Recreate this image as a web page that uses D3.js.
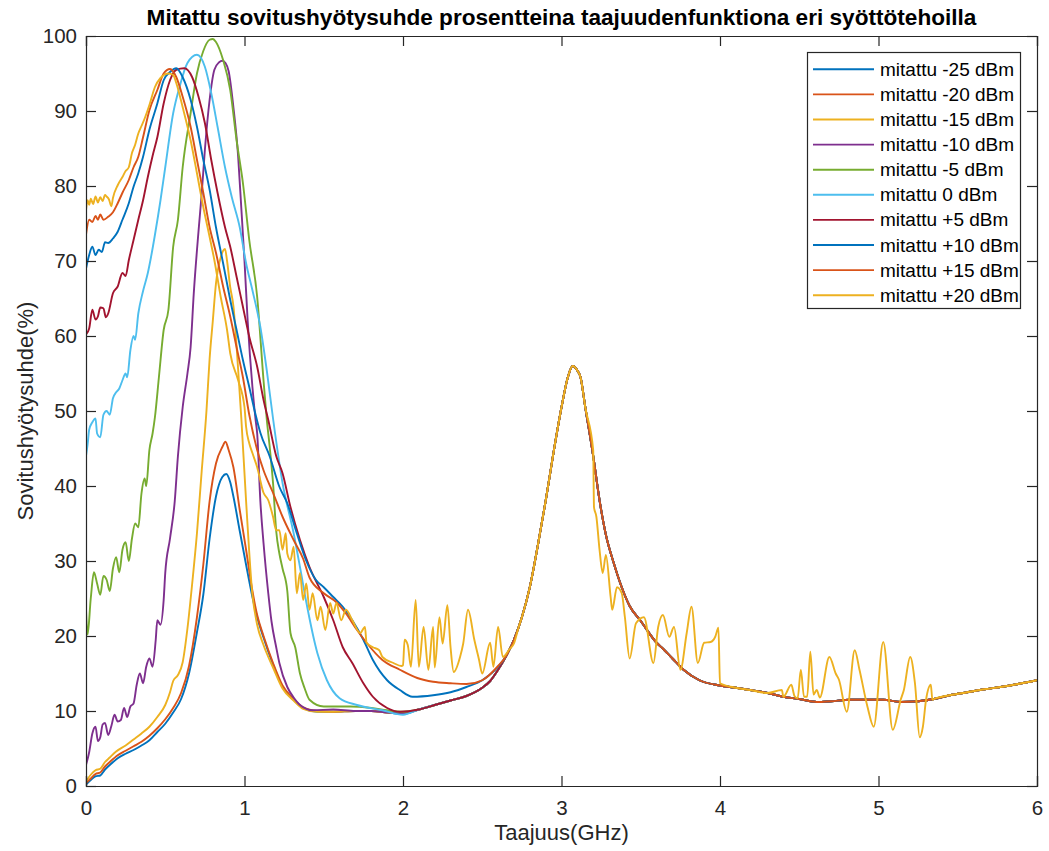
<!DOCTYPE html>
<html><head><meta charset="utf-8">
<script src="https://cdn.jsdelivr.net/npm/d3@7"></script>
<style>body{margin:0;background:#fff}svg{display:block;font-family:"Liberation Sans",Arial,sans-serif}</style>
</head><body><svg id="c" width="1049" height="851"></svg>
<script>
const titleText = "Mitattu sovitushyötysuhde prosentteina taajuudenfunktiona eri syöttötehoilla";
const xLabel = "Taajuus(GHz)";
const yLabel = "Sovitushyötysuhde(%)";
const xTicks = [0,1,2,3,4,5,6];
const yTicks = [0,10,20,30,40,50,60,70,80,90,100];
const seriesNames = ["mitattu -25 dBm","mitattu -20 dBm","mitattu -15 dBm","mitattu -10 dBm","mitattu -5 dBm","mitattu 0 dBm","mitattu +5 dBm","mitattu +10 dBm","mitattu +15 dBm","mitattu +20 dBm"];
const colors = ["#0072BD","#D95319","#EDB120","#7E2F8E","#77AC30","#4DBEEE","#A2142F","#0072BD","#D95319","#EDB120"];

// shared low valley (2.0..2.6 GHz) and common tail (2.65..6 GHz)
const valley = [[2.1,10.2],[2.2,10.8],[2.3,11.4],[2.4,12],[2.5,13.1],[2.55,14],[2.6,15.5]];
const tail = [[2.65,17.3],[2.7,19.5],[2.75,22.5],[2.8,26.5],[2.85,32],[2.9,38],[2.95,44.5],[3.0,50.5],[3.04,54.5],[3.07,56],[3.1,55.4],[3.12,54.5],[3.15,50.5],[3.2,44],[3.24,38.1],[3.28,33.5],[3.33,29.7],[3.38,26.5],[3.43,24],[3.5,22],[3.6,19.1],[3.64,18.3],[3.7,17],[3.77,15.5],[3.87,14.1],[4.0,13.4],[4.1,13.1],[4.19,12.8],[4.3,12.4],[4.4,11.9],[4.5,11.6],[4.61,11.2],[4.7,11.3],[4.82,11.5],[4.92,11.5],[5.03,11.5],[5.14,11.2],[5.25,11.3],[5.35,11.6],[5.45,12.1],[5.56,12.5],[5.67,12.9],[5.77,13.2],[5.88,13.6],[6.0,14.1]];

const m25 = [[0,0.2],[0.03,0.8],[0.06,1.3],[0.09,1.4],[0.12,2.2],[0.15,2.8],[0.2,3.7],[0.25,4.3],[0.3,4.8],[0.35,5.4],[0.4,6.1],[0.45,7.2],[0.5,8.3],[0.55,9.8],[0.6,11.6],[0.65,15],[0.7,20.5],[0.74,25.5],[0.78,33],[0.82,38.6],[0.86,41.2],[0.885,41.6],[0.91,40.5],[0.93,38.6],[0.97,34],[1.01,29.5],[1.05,25.2],[1.08,22.5],[1.12,19.8],[1.18,16.2],[1.24,13.2],[1.31,11.5],[1.37,10.4],[1.46,9.9],[1.56,9.9],[1.7,10],[1.8,10],[1.9,9.8],[2.0,9.6]];
const m20 = [[0,0.4],[0.03,1.0],[0.06,1.6],[0.09,1.8],[0.12,2.6],[0.15,3.2],[0.2,4.1],[0.25,4.7],[0.3,5.3],[0.35,5.9],[0.4,6.7],[0.45,7.7],[0.5,8.9],[0.55,10.4],[0.6,12.4],[0.65,16],[0.7,22.5],[0.74,29.5],[0.78,38],[0.82,43],[0.86,45.2],[0.88,45.9],[0.9,44.8],[0.93,42.5],[0.97,36.8],[1.01,31.5],[1.05,26],[1.08,22.8],[1.12,20],[1.18,16.4],[1.24,13.4],[1.31,11.6],[1.37,10.5],[1.46,10],[1.56,9.9],[1.7,10],[1.8,10],[1.9,9.8],[2.0,9.7]];
const m15 = [[0,0.6],[0.03,1.5],[0.06,2.1],[0.09,2.3],[0.12,3.2],[0.15,3.8],[0.19,4.6],[0.25,5.4],[0.3,6.2],[0.35,7],[0.4,7.9],[0.45,9.2],[0.5,10.8],[0.53,12.5],[0.55,14],[0.58,14.8],[0.61,16.5],[0.64,21],[0.67,27],[0.7,33.7],[0.73,42],[0.76,50],[0.78,57],[0.8,62],[0.82,67],[0.85,70.5],[0.877,71.6],[0.89,70],[0.91,66.5],[0.93,64],[0.96,55.5],[0.98,49],[1.01,38],[1.05,25.5],[1.08,21.5],[1.12,18.8],[1.18,15.8],[1.24,13],[1.31,11.4],[1.37,10.3],[1.46,9.9],[1.56,9.9],[1.7,10],[1.8,10],[1.9,9.8],[2.0,9.7]];
const m10 = [[0,2.8],[0.02,4.5],[0.04,7],[0.06,7.9],[0.075,6],[0.09,6.5],[0.105,8.2],[0.12,8.4],[0.14,6.8],[0.16,8],[0.18,9.5],[0.2,8.6],[0.22,8.8],[0.24,10.4],[0.26,9.2],[0.28,10.6],[0.3,11],[0.32,13.5],[0.34,15],[0.36,13.7],[0.38,15.9],[0.4,17],[0.42,15.9],[0.44,19.5],[0.45,22.1],[0.47,21.5],[0.49,24.8],[0.5,28.4],[0.53,33],[0.56,38],[0.58,44],[0.61,50.5],[0.64,55],[0.66,58.5],[0.68,65.7],[0.71,74],[0.73,79],[0.75,84.8],[0.78,91.5],[0.81,95.5],[0.84,96.5],[0.86,96.7],[0.88,96.4],[0.9,95.3],[0.93,90.5],[0.96,83.9],[0.98,77],[1.0,70],[1.02,62],[1.05,53.2],[1.07,48.8],[1.08,47],[1.1,38],[1.12,32.4],[1.15,25.7],[1.17,22],[1.2,18.5],[1.22,16.4],[1.27,13.2],[1.31,11.8],[1.35,10.8],[1.43,10.1],[1.56,10.2],[1.7,10],[1.8,10],[1.9,9.8],[2.0,9.7]];
const m5 = [[0,23.5],[0.01,20.2],[0.03,25],[0.05,28.5],[0.07,27],[0.09,25.5],[0.11,28],[0.13,27.5],[0.15,26],[0.17,29],[0.19,30.5],[0.21,28.5],[0.23,31.5],[0.25,32.5],[0.27,30],[0.29,33],[0.31,35],[0.33,34.5],[0.35,39],[0.37,41],[0.38,40],[0.40,44.8],[0.42,47],[0.435,49.2],[0.46,54.5],[0.49,60.8],[0.52,63.5],[0.55,71.9],[0.58,75.5],[0.61,82.5],[0.66,89.7],[0.70,95],[0.74,98],[0.78,99.5],[0.8,99.6],[0.82,99.2],[0.865,96.8],[0.91,92.8],[0.95,86.1],[0.99,80.4],[1.03,72.8],[1.08,65.2],[1.12,54.1],[1.14,49],[1.16,45],[1.18,40.4],[1.2,34],[1.22,31],[1.24,29],[1.27,26],[1.29,20.4],[1.32,18.5],[1.35,15],[1.38,13],[1.41,11.5],[1.5,10.6],[1.67,10.6],[1.8,10.4],[1.9,10.1],[2.0,9.9]];
const p0 = [[0,44],[0.01,45.5],[0.02,47.5],[0.04,48.5],[0.06,49],[0.07,47],[0.09,46.5],[0.11,49.5],[0.13,50],[0.15,49.5],[0.17,51.7],[0.19,52.5],[0.21,53],[0.23,54.1],[0.25,55],[0.26,54.5],[0.28,58.1],[0.3,60],[0.31,59.5],[0.33,63],[0.36,66],[0.39,68.4],[0.41,70.5],[0.435,73.5],[0.47,78.1],[0.5,82.5],[0.55,89.7],[0.59,93.2],[0.64,96.4],[0.70,97.5],[0.75,95.9],[0.79,92.4],[0.83,87.9],[0.877,82.5],[0.92,78.5],[0.97,74.5],[1.01,69.7],[1.05,66.1],[1.1,61.2],[1.14,55.5],[1.18,49],[1.24,40.4],[1.31,33.7],[1.35,29.2],[1.39,24.5],[1.46,17.7],[1.52,14.1],[1.6,11.7],[1.71,10.8],[1.87,10.1],[2.0,9.5]];
const p5 = [[0,60.2],[0.02,61],[0.04,63.5],[0.06,62.2],[0.075,62.6],[0.09,63.8],[0.11,63.7],[0.125,62.5],[0.14,63],[0.17,65.7],[0.2,66.6],[0.23,68.4],[0.25,68],[0.27,70.1],[0.3,72.8],[0.33,75.5],[0.36,78.1],[0.39,81.2],[0.42,84],[0.45,86.5],[0.49,91],[0.53,94.1],[0.57,95.5],[0.62,95.7],[0.67,94.5],[0.71,91.9],[0.75,88.4],[0.79,83.5],[0.83,79.1],[0.877,74.5],[0.91,71.9],[0.95,67.9],[0.99,63.9],[1.03,59.9],[1.08,55.9],[1.12,51.5],[1.15,48.8],[1.2,44],[1.24,41.7],[1.29,37.2],[1.35,32.8],[1.41,29.2],[1.5,25.2],[1.56,22.1],[1.62,18.5],[1.68,16.4],[1.75,13.7],[1.81,11.9],[1.9,10.4],[1.98,9.9]];
const p10 = [[0,69],[0.02,70.8],[0.04,71.9],[0.06,70.8],[0.08,71.5],[0.1,71.2],[0.12,72.5],[0.14,72.4],[0.17,73],[0.2,73.9],[0.23,75.5],[0.27,77.7],[0.3,79.9],[0.33,81.7],[0.36,83.9],[0.40,87.5],[0.45,91],[0.49,94.1],[0.53,95.2],[0.57,95.7],[0.61,94.5],[0.66,91.5],[0.70,87.9],[0.74,83.5],[0.78,79.5],[0.82,74.5],[0.865,69.7],[0.91,64.8],[0.95,60.8],[0.99,56.8],[1.03,53.2],[1.07,49.5],[1.1,47.1],[1.16,43.9],[1.22,39.9],[1.27,37.7],[1.33,33.7],[1.39,30],[1.45,27.5],[1.5,26.5],[1.56,25.2],[1.62,23.9],[1.68,22.1],[1.75,19.5],[1.81,16.8],[1.9,14.1],[1.98,12.8],[2.06,11.9],[2.19,12.1],[2.3,12.5],[2.4,13.2],[2.5,14.1],[2.6,15.9]];
const p15 = [[0,73.5],[0.02,75.5],[0.04,75.2],[0.06,76],[0.075,75.5],[0.09,76.2],[0.11,75.5],[0.14,75.9],[0.17,76.5],[0.2,77.7],[0.23,79.1],[0.27,80.8],[0.3,82.5],[0.33,83.9],[0.36,86.5],[0.40,90.1],[0.45,92.8],[0.49,95],[0.53,95.6],[0.57,94.5],[0.61,91.9],[0.66,87.9],[0.70,83.5],[0.74,79.1],[0.78,74.5],[0.82,71.1],[0.865,66.6],[0.91,62.6],[0.95,58.5],[0.99,54.5],[1.03,49.5],[1.08,44.8],[1.12,42.1],[1.18,39.1],[1.24,35.9],[1.31,32.8],[1.37,30.3],[1.41,27.8],[1.5,25.7],[1.58,24.5],[1.64,23],[1.71,20.8],[1.77,19.1],[1.87,16.8],[1.98,15.5],[2.09,14.4],[2.19,13.9],[2.3,13.7],[2.4,13.6],[2.5,14.1],[2.6,16]];
const p20a = [[0,76.8],[0.01,78.1],[0.02,77.5],[0.03,78.3],[0.045,77.6],[0.06,78.6],[0.075,77.8],[0.09,78.5],[0.105,78],[0.12,78.8],[0.13,78.6],[0.145,78.2],[0.16,77.3],[0.17,78.4],[0.2,80.1],[0.23,81.2],[0.25,82],[0.27,82.5],[0.29,84.4],[0.31,85.5],[0.33,87],[0.35,88],[0.37,89],[0.40,90.8],[0.435,93.2],[0.47,94.4],[0.52,95],[0.55,94.8],[0.57,93.7],[0.61,90.5],[0.66,86.1],[0.70,81.7],[0.74,77.2],[0.78,73.2],[0.81,70.1],[0.85,65.2],[0.89,60.8],[0.91,57.7],[0.96,54.1],[1.0,50.5],[1.01,47.9],[1.03,45.7],[1.05,44.4],[1.08,42.5],[1.12,39.1],[1.15,38.1],[1.18,35.9],[1.2,34.1],[1.22,34.1],[1.24,31.5],[1.26,33.7],[1.27,31],[1.29,30.1],[1.31,31.9],[1.33,25.7],[1.35,28.4],[1.37,24.8],[1.39,27],[1.41,23.5],[1.43,25.7],[1.46,22.1],[1.48,23.9],[1.51,20.8],[1.54,24.4],[1.56,23],[1.58,24.4],[1.61,22.1],[1.64,23.5],[1.68,22.1],[1.73,20.4],[1.76,21.2],[1.77,19.1],[1.81,18.5],[1.85,18.1],[1.87,17.2],[1.94,16.4],[1.99,16],[2.0,16.1],[2.01,19.5],[2.03,18.8],[2.05,15.9],[2.08,24.8],[2.1,15.9],[2.13,21.2],[2.16,15.5],[2.19,21.2],[2.2,15.8],[2.23,22.5],[2.25,19],[2.28,24.1],[2.3,18.5],[2.32,15.2],[2.36,17.2],[2.38,19],[2.41,23.5],[2.45,19.5],[2.48,16.8],[2.5,15],[2.55,19.1],[2.57,15.9],[2.6,21.2],[2.63,17.2],[2.67,18.2],[2.7,19],[2.73,21.2]];
const p20b = [[3.2,44.8],[3.205,37.2],[3.22,35.9],[3.24,31.5],[3.26,28.4],[3.28,30.8],[3.31,25.2],[3.32,23.5],[3.35,26.5],[3.38,25.7],[3.4,22.5],[3.43,17],[3.47,21.7],[3.52,22.5],[3.58,16.4],[3.61,21.2],[3.64,22.8],[3.68,19.9],[3.71,21.2],[3.75,15.5],[3.79,20.4],[3.82,23.9],[3.86,16.4],[3.9,19.1],[3.94,19.2],[3.97,19.9],[3.99,21.1],[4.0,13.7]];
const p20c = [[4.39,12.8],[4.4,11.9],[4.45,13.5],[4.47,12],[4.49,11.7],[4.51,15.5],[4.53,11.9],[4.55,11.9],[4.57,17.9],[4.59,12.2],[4.61,12.8],[4.63,11.8],[4.69,17.2],[4.73,15],[4.75,14.2],[4.8,9.9],[4.85,18.1],[4.88,15.5],[4.93,10.6],[4.97,7.9],[5.03,19.2],[5.09,7.5],[5.14,11.5],[5.16,12.8],[5.2,17.2],[5.23,13.7],[5.26,6.5],[5.28,7.9],[5.3,11.5],[5.33,13.5],[5.34,11.5]];

const seriesData = [
  m25.concat(valley, tail),
  m20.concat(valley, tail),
  m15.concat(valley, tail),
  m10.concat(valley, tail),
  m5.concat(valley, tail),
  p0.concat(valley, tail),
  p5.concat(valley, tail),
  p10.concat(tail),
  p15.concat(tail),
  p20a.concat(tail.filter(d => d[0] > 2.73 && d[0] < 3.2), p20b,
              tail.filter(d => d[0] > 4.0 && d[0] < 4.39), p20c,
              tail.filter(d => d[0] > 5.34))
];

const svg = d3.select("#c");
const L = 86, T = 36, R = 1037, B = 786;
const x = d3.scaleLinear().domain([0,6]).range([L,R]);
const y = d3.scaleLinear().domain([0,100]).range([B,T]);
const axisColor = "#262626";

svg.append("defs").append("clipPath").attr("id","clip")
  .append("rect").attr("x",L).attr("y",T).attr("width",R-L).attr("height",B-T);

const line = d3.line().x(d => x(d[0])).y(d => y(d[1])).curve(d3.curveMonotoneX);
const g = svg.append("g").attr("clip-path","url(#clip)");
seriesData.forEach((s,i) => {
  g.append("path").attr("d", line(s)).attr("fill","none")
   .attr("stroke", colors[i]).attr("stroke-width",1.9).attr("stroke-linejoin","round");
});

// axes (box with inward ticks)
const tl = 10;
const axB = svg.append("g").attr("transform",`translate(0,${B})`).call(d3.axisBottom(x).tickValues(xTicks).tickSize(-tl).tickPadding(14).tickFormat(d3.format("d")));
const axT = svg.append("g").attr("transform",`translate(0,${T})`).call(d3.axisTop(x).tickValues(xTicks).tickSize(-tl).tickFormat(""));
const axL = svg.append("g").attr("transform",`translate(${L},0)`).call(d3.axisLeft(y).tickValues(yTicks).tickSize(-tl).tickPadding(9).tickFormat(d3.format("d")));
const axR = svg.append("g").attr("transform",`translate(${R},0)`).call(d3.axisRight(y).tickValues(yTicks).tickSize(-tl).tickFormat(""));
[axB,axT,axL,axR].forEach(a => {
  a.select(".domain").attr("stroke",axisColor).attr("stroke-width",1.2);
  a.selectAll(".tick line").attr("stroke",axisColor).attr("stroke-width",1.2);
  a.selectAll("text").attr("fill",axisColor).style("font-size","20.5px").style("font-family",'"Liberation Sans",Arial,sans-serif');
});

svg.append("text").attr("x",(L+R)/2).attr("y",25).attr("text-anchor","middle")
  .style("font-size","22.6px").style("font-weight","bold").attr("fill","#000").text(titleText);
svg.append("text").attr("x",(L+R)/2).attr("y",840).attr("text-anchor","middle")
  .style("font-size","22px").attr("fill",axisColor).text(xLabel);
svg.append("text").attr("transform",`translate(33,${(T+B)/2}) rotate(-90)`).attr("text-anchor","middle")
  .style("font-size","22px").attr("fill",axisColor).text(yLabel);

// legend
const lg = svg.append("g");
lg.append("rect").attr("x",807.5).attr("y",52.5).attr("width",213).attr("height",256)
  .attr("fill","#fff").attr("stroke",axisColor).attr("stroke-width",1.2);
seriesNames.forEach((n,i) => {
  const yy = 69.3 + i*25.1;
  lg.append("line").attr("x1",813).attr("x2",874).attr("y1",yy).attr("y2",yy)
    .attr("stroke",colors[i]).attr("stroke-width",1.9);
  lg.append("text").attr("x",880).attr("y",yy+6.5).style("font-size","19px")
    .attr("fill","#000").text(n);
});
</script></body></html>
